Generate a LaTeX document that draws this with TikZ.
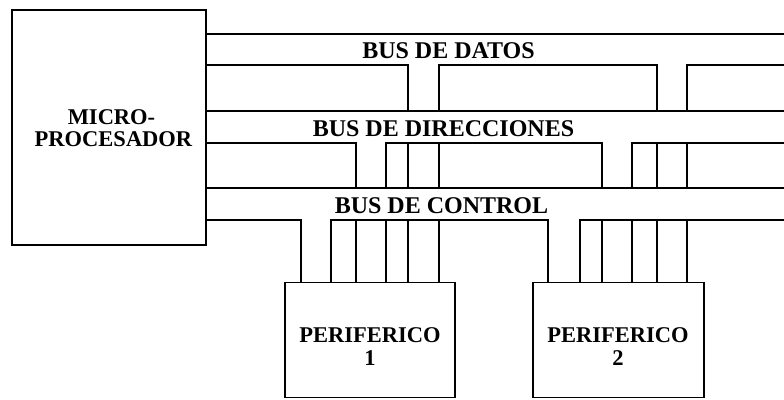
\documentclass[tikz,border=0pt]{standalone}
\usepackage{fontspec}
\setmainfont{Liberation Serif}
\begin{document}
\begin{tikzpicture}[x=1pt,y=-1pt,
  wire/.style={line width=1.5pt, line cap=rect},
  boxline/.style={draw, line width=1.6pt, inner sep=0pt},
  buslbl/.style={anchor=base, inner sep=0pt, font=\bfseries\fontsize{24}{26}\selectfont},
  boxlbl/.style={anchor=base, inner sep=0pt, font=\bfseries\fontsize{22.5}{24}\selectfont}]
\useasboundingbox (0,0) rectangle (784,399);
% boxes
\node[boxline, minimum width=194pt, minimum height=235pt] (mp) at (109,127.5) {};
\node[boxline, minimum width=170pt, minimum height=115pt] (p1) at (370,340) {};
\node[boxline, minimum width=171pt, minimum height=115pt] (p2) at (618.5,340) {};
% right end of the buses
\coordinate (re) at (784,0);
% box texts
\node[boxlbl] (mpa) at (111.5,124) {MICRO-};
\node[boxlbl] (mpb) at (113.5,146) {PROCESADOR};
\node[boxlbl] (p1a) at (370,342) {PERIFERICO};
\node[boxlbl] (p1b) at (370,365) {1};
\node[boxlbl] (p2a) at (618,342) {PERIFERICO};
\node[boxlbl] (p2b) at (618,365) {2};
% bus labels
\node[buslbl] (ld) at (448.5,58) {BUS DE DATOS};
\node[buslbl] (la) at (443.5,136) {BUS DE DIRECCIONES};
\node[buslbl] (lc) at (441.5,213) {BUS DE CONTROL};
% top lines of the buses
\draw[wire] (mp.east |- 0,34) -- (re |- 0,34);
\draw[wire] (mp.east |- 0,111) -- (re |- 0,111);
\draw[wire] (mp.east |- 0,188) -- (re |- 0,188);
% data bus
\draw[wire] (mp.east |- 0,65) -- (408,65) -- (408,111);
\draw[wire] (439,111) -- (439,65) -- (657,65) -- (657,111);
\draw[wire] (687,111) -- (687,65) -- (re |- 0,65);
% address bus
\draw[wire] (mp.east |- 0,143) -- (356,143) -- (356,188);
\draw[wire] (386,188) -- (386,143) -- (602,143) -- (602,188);
\draw[wire] (632,188) -- (632,143) -- (re |- 0,143);
\draw[wire] (408,143) -- (408,188);
\draw[wire] (439,143) -- (439,188);
\draw[wire] (657,143) -- (657,188);
\draw[wire] (687,143) -- (687,188);
% control bus
\draw[wire] (mp.east |- 0,220) -- (301,220) -- (301,0 |- p1.north);
\draw[wire] (331,0 |- p1.north) -- (331,220) -- (548,220) -- (548,0 |- p2.north);
\draw[wire] (580,0 |- p2.north) -- (580,220) -- (re |- 0,220);
% lines down to the peripherals
\foreach \x in {356,386,408,439} \draw[wire] (\x,220) -- (\x,0 |- p1.north);
\foreach \x in {602,632,657,687} \draw[wire] (\x,220) -- (\x,0 |- p2.north);
\end{tikzpicture}
\end{document}
